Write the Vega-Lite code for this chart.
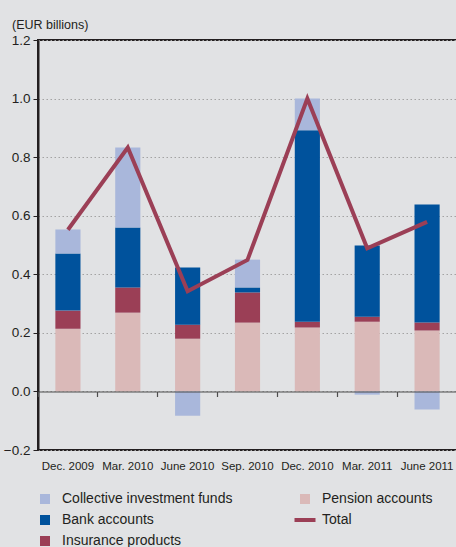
{
  "$schema": "https://vega.github.io/schema/vega-lite/v6.json",
  "width": 419,
  "height": 410,
  "padding": {"left": 3, "top": 18, "right": 0, "bottom": 0},
  "background": "#e1e2e4",
  "title": {"text": "(EUR billions)", "anchor": "start", "frame": "group", "dx": -26, "offset": 2, "fontSize": 12.5, "fontWeight": "normal", "font": "Liberation Sans", "color": "#231f20"},
  "config": {
    "view": {"stroke": "#231f20", "strokeWidth": 2},
    "font": "Liberation Sans"
  },
  "data": {"values": [
    {"date": "Dec. 2009", "series": "Pension accounts", "value": 0.214},
    {"date": "Dec. 2009", "series": "Insurance products", "value": 0.062},
    {"date": "Dec. 2009", "series": "Bank accounts", "value": 0.195},
    {"date": "Dec. 2009", "series": "Collective investment funds", "value": 0.082},
    {"date": "Dec. 2009", "series": "Total", "value": 0.552},
    {"date": "Mar. 2010", "series": "Pension accounts", "value": 0.269},
    {"date": "Mar. 2010", "series": "Insurance products", "value": 0.086},
    {"date": "Mar. 2010", "series": "Bank accounts", "value": 0.205},
    {"date": "Mar. 2010", "series": "Collective investment funds", "value": 0.273},
    {"date": "Mar. 2010", "series": "Total", "value": 0.833},
    {"date": "June 2010", "series": "Pension accounts", "value": 0.18},
    {"date": "June 2010", "series": "Insurance products", "value": 0.048},
    {"date": "June 2010", "series": "Bank accounts", "value": 0.195},
    {"date": "June 2010", "series": "Collective investment funds", "value": -0.083},
    {"date": "June 2010", "series": "Total", "value": 0.342},
    {"date": "Sep. 2010", "series": "Pension accounts", "value": 0.235},
    {"date": "Sep. 2010", "series": "Insurance products", "value": 0.103},
    {"date": "Sep. 2010", "series": "Bank accounts", "value": 0.017},
    {"date": "Sep. 2010", "series": "Collective investment funds", "value": 0.095},
    {"date": "Sep. 2010", "series": "Total", "value": 0.449},
    {"date": "Dec. 2010", "series": "Pension accounts", "value": 0.218},
    {"date": "Dec. 2010", "series": "Insurance products", "value": 0.02},
    {"date": "Dec. 2010", "series": "Bank accounts", "value": 0.654},
    {"date": "Dec. 2010", "series": "Collective investment funds", "value": 0.108},
    {"date": "Dec. 2010", "series": "Total", "value": 1.0},
    {"date": "Mar. 2011", "series": "Pension accounts", "value": 0.238},
    {"date": "Mar. 2011", "series": "Insurance products", "value": 0.017},
    {"date": "Mar. 2011", "series": "Bank accounts", "value": 0.243},
    {"date": "Mar. 2011", "series": "Collective investment funds", "value": -0.011},
    {"date": "Mar. 2011", "series": "Total", "value": 0.489},
    {"date": "June 2011", "series": "Pension accounts", "value": 0.208},
    {"date": "June 2011", "series": "Insurance products", "value": 0.027},
    {"date": "June 2011", "series": "Bank accounts", "value": 0.403},
    {"date": "June 2011", "series": "Collective investment funds", "value": -0.062},
    {"date": "June 2011", "series": "Total", "value": 0.579}
  ]},
  "layer": [
    {
      "transform": [
        {"filter": "datum.series !== 'Total'"},
        {"calculate": "indexof(['Pension accounts','Insurance products','Bank accounts','Collective investment funds'], datum.series)", "as": "stackOrder"}
      ],
      "mark": {"type": "bar", "width": {"band": 0.42}},
      "encoding": {
        "x": {
          "field": "date", "type": "nominal", "sort": null,
          "scale": {"paddingInner": 0, "paddingOuter": 0},
          "axis": {
            "title": null, "labelAngle": 0, "offset": -58.5, "zindex": 1,
            "domainColor": "#4d4d4d", "domainWidth": 1.2,
            "tickColor": "#4d4d4d", "tickSize": 5, "tickWidth": 1.2, "bandPosition": 0,
            "labelPadding": 64, "labelFontSize": 11.5, "labelFont": "Liberation Sans",
            "labelColor": "#231f20", "labelBaseline": "top"
          }
        },
        "y": {
          "field": "value", "type": "quantitative", "stack": "zero",
          "scale": {"domain": [-0.2, 1.2], "nice": false, "zero": false},
          "axis": {
            "title": null, "values": [-0.2, 0, 0.2, 0.4, 0.6, 0.8, 1.0, 1.2], "format": ".1f",
            "domainColor": "#231f20", "domainWidth": 2,
            "tickColor": "#231f20", "tickSize": 5, "tickWidth": 1,
            "labelPadding": 3, "labelFontSize": 13.5, "labelColor": "#231f20",
            "grid": true, "gridColor": "#a3a3a3", "gridDash": [1.5, 2.5], "gridWidth": 1
          }
        },
        "color": {
          "field": "series", "type": "nominal",
          "scale": {
            "domain": ["Collective investment funds", "Pension accounts", "Bank accounts", "Total", "Insurance products"],
            "range": ["#a9b7db", "#dab9b8", "#00529c", "#9b3f56", "#9b3f56"]
          },
          "legend": {
            "orient": "bottom", "title": null, "columns": 2, "direction": "horizontal",
            "symbolType": "square", "symbolSize": 100, "labelFontSize": 14, "labelOffset": 10,
            "columnPadding": 53, "rowPadding": 6, "labelColor": "#231f20", "offset": 20,
            "labelLimit": 300,
            "encode": {
              "symbols": {"update": {
                "shape": {"signal": "datum.value === 'Total' ? 'stroke' : 'square'"},
                "size": {"signal": "datum.value === 'Total' ? 441 : 100"},
                "strokeWidth": {"signal": "datum.value === 'Total' ? 4 : 0"},
                "stroke": {"signal": "datum.value === 'Total' ? '#9b3f56' : 'transparent'"},
                "fill": {"signal": "datum.value === 'Total' ? 'transparent' : scale('color', datum.value)"},
                "opacity": {"value": 1}
              }}
            }
          }
        },
        "order": {"field": "stackOrder", "type": "quantitative"}
      }
    },
    {
      "transform": [{"filter": "datum.series === 'Total'"}],
      "mark": {"type": "line", "strokeWidth": 4, "strokeJoin": "miter"},
      "encoding": {
        "x": {"field": "date", "type": "nominal", "sort": null},
        "y": {"field": "value", "type": "quantitative"},
        "color": {"field": "series", "type": "nominal"}
      }
    }
  ]
}
